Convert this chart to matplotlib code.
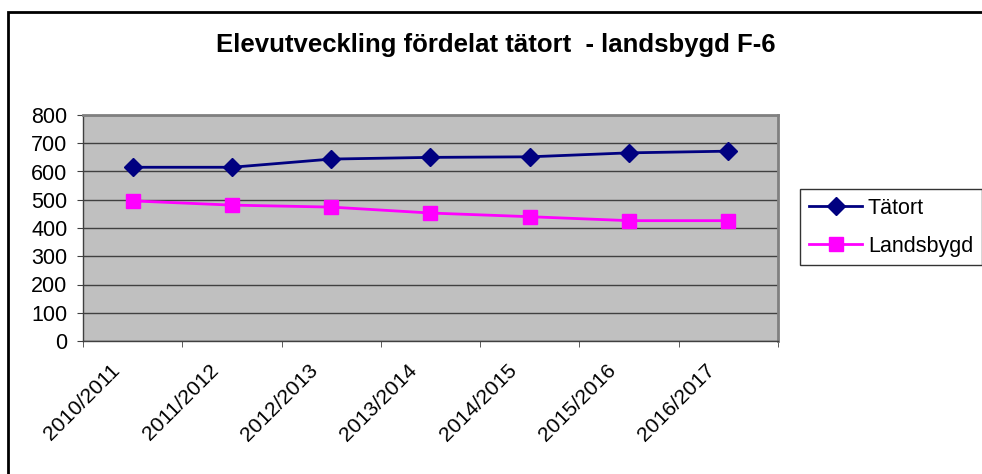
import numpy as np
import matplotlib
matplotlib.use("Agg")
import matplotlib.pyplot as plt
from matplotlib.patches import Rectangle
from matplotlib.transforms import ScaledTranslation

plt.rcParams['font.family'] = ['Liberation Sans', 'DejaVu Sans']

# data
years = ["2010/2011", "2011/2012", "2012/2013", "2013/2014",
         "2014/2015", "2015/2016", "2016/2017"]
tatort = [615, 615, 644, 650, 652, 666, 672]
landsbygd = [496, 481, 474, 453, 440, 426, 426]
y_ticks = [0, 100, 200, 300, 400, 500, 600, 700, 800]

W, H = 982, 474
fig = plt.figure(figsize=(W / 100, H / 100), dpi=100)

# outer chart frame (cut off at right and bottom, as in the reference)
fig.patches.append(Rectangle((8 / W, -0.1), 1.2, 1 - 12 / H + 0.1,
                             transform=fig.transFigure, fill=False,
                             edgecolor='black', linewidth=2))

ax = fig.add_axes([83 / W, 1 - 341 / H, (778 - 83) / W, (341 - 115) / H])
ax.set_facecolor('#C0C0C0')

x = np.arange(len(years))
ax.plot(x, tatort, color='#000080', marker='D', markersize=9, linewidth=2,
        label='Tätort')
ax.plot(x, landsbygd, color='#FF00FF', marker='s', markersize=10, linewidth=2,
        label='Landsbygd')

ax.set_xlim(-0.5, len(years) - 0.5)
ax.set_ylim(0, 800)
ax.set_yticks(y_ticks)
ax.yaxis.grid(True, color='#404040', linewidth=1)
ax.set_axisbelow(True)
ax.tick_params(axis='y', labelsize=15.5, length=4.3, color='#404040', pad=7)

ax.set_xticks(x)
ax.set_xticklabels(years, rotation=45, ha='right', rotation_mode='anchor',
                   fontsize=15.2)
ax.set_xticks(np.arange(len(years) + 1) - 0.5, minor=True)
ax.tick_params(axis='x', which='major', length=0, pad=14)
ax.tick_params(axis='x', which='minor', length=4, color='#404040')
# Excel puts the end of a rotated label a little left of the category centre
shift = ScaledTranslation(-23 / 100, 0, fig.dpi_scale_trans)
for lbl in ax.get_xticklabels():
    lbl.set_transform(lbl.get_transform() + shift)

for s in ['top', 'right']:
    ax.spines[s].set_color('#808080')
    ax.spines[s].set_linewidth(2)
for s in ['left', 'bottom']:
    ax.spines[s].set_color('#404040')
    ax.spines[s].set_linewidth(1)

fig.text(496 / W, 1 - 45 / H, 'Elevutveckling fördelat tätort  - landsbygd F-6',
         ha='center', va='center', fontsize=18.5, fontweight='bold')

leg = ax.legend(loc='upper left', bbox_to_anchor=(800 / W, 1 - 189 / H),
                bbox_transform=fig.transFigure, fontsize=15.5, frameon=True,
                fancybox=False, edgecolor='black', handlelength=2.5,
                borderpad=0.4, labelspacing=0.8, handletextpad=0.25,
                borderaxespad=0)
leg.get_frame().set_linewidth(1)

fig.savefig('out.png', dpi=100)
